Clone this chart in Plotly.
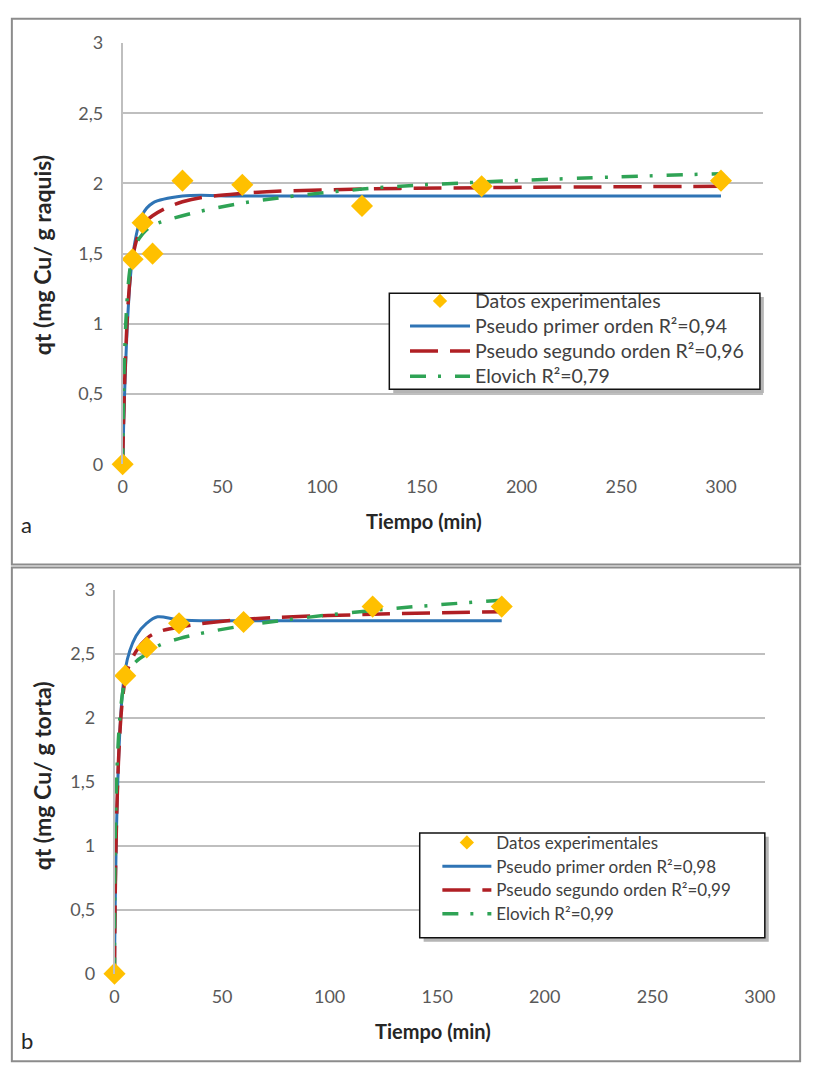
import plotly.graph_objects as go

# ---------------- data ----------------
# Panel a (raquis)
t_exp_a = [0, 5, 10, 15, 30, 60, 120, 180, 300]
q_exp_a = [0, 1.46, 1.72, 1.50, 2.02, 1.99, 1.84, 1.98, 2.02]
t_mod_a = [0, 5, 10, 15, 30, 60, 120, 180, 300]
pfo_a = [0, 1.48, 1.78, 1.86, 1.91, 1.91, 1.91, 1.91, 1.91]
pso_a = [0, 1.47, 1.70, 1.77, 1.87, 1.93, 1.96, 1.97, 1.98]
elo_a = [0, 1.50, 1.64, 1.70, 1.77, 1.86, 1.96, 2.01, 2.07]

# Panel b (torta)
t_exp_b = [0, 5, 15, 30, 60, 120, 180]
q_exp_b = [0, 2.33, 2.55, 2.74, 2.75, 2.87, 2.87]
t_mod_b = [0, 5, 10, 15, 20, 30, 60, 120, 180]
pfo_b = [0, 2.38, 2.64, 2.74, 2.79, 2.765, 2.76, 2.76, 2.76]
pso_b = [0, 2.30, 2.52, 2.62, 2.67, 2.71, 2.77, 2.81, 2.83]
elo_b = [0, 2.30, 2.44, 2.50, 2.56, 2.62, 2.72, 2.84, 2.92]

names_a = ["Datos experimentales", "Pseudo primer orden R²=0,94",
           "Pseudo segundo orden R²=0,96", "Elovich R²=0,79"]
names_b = ["Datos experimentales", "Pseudo primer orden R²=0,98",
           "Pseudo segundo orden R²=0,99", "Elovich R²=0,99"]

y_ticks = [0, 0.5, 1, 1.5, 2, 2.5, 3]
x_ticks = [0, 50, 100, 150, 200, 250, 300]

# ---------------- styles ----------------
FONT = "Lato"
BLUE = "#2F74B5"
RED = "#B01F24"
GREEN = "#2FA355"
GOLD = "#FFC000"
W, H = 817, 1078

fig = go.Figure()


def add_panel(t_mod, pfo, pso, elo, t_exp, q_exp, names, xa, ya, leg, fs):
    lab = [f'<span style="font-size:{fs}px">{n}</span>' for n in names]
    fig.add_trace(go.Scatter(x=[None], y=[None], mode="markers", name=lab[0],
                             marker=dict(symbol="diamond", size=11, color=GOLD),
                             xaxis=xa, yaxis=ya, legend=leg, legendrank=1,
                             hoverinfo="skip"))
    fig.add_trace(go.Scatter(x=t_mod, y=pfo, mode="lines", name=lab[1],
                             line=dict(color=BLUE, width=3, shape="spline"),
                             xaxis=xa, yaxis=ya, legend=leg, legendrank=2))
    fig.add_trace(go.Scatter(x=t_mod, y=pso, mode="lines", name=lab[2],
                             line=dict(color=RED, width=3.5, shape="spline",
                                       dash="28px,12px"),
                             xaxis=xa, yaxis=ya, legend=leg, legendrank=3))
    fig.add_trace(go.Scatter(x=t_mod, y=elo, mode="lines", name=lab[3],
                             line=dict(color=GREEN, width=3.5, shape="spline",
                                       dash="16px,12px,3px,14px"),
                             xaxis=xa, yaxis=ya, legend=leg, legendrank=4))
    fig.add_trace(go.Scatter(x=t_exp, y=q_exp, mode="markers", name=names[0],
                             marker=dict(symbol="diamond", size=17, color=GOLD),
                             cliponaxis=False, showlegend=False,
                             xaxis=xa, yaxis=ya, legend=leg))


add_panel(t_mod_a, pfo_a, pso_a, elo_a, t_exp_a, q_exp_a, names_a, "x", "y", "legend", 19.5)
add_panel(t_mod_b, pfo_b, pso_b, elo_b, t_exp_b, q_exp_b, names_b, "x2", "y2", "legend2", 17)


def px_x(p):
    return p / W


def px_y(p):
    return 1 - p / H


tickfont = dict(family=FONT, size=18, color="#595959")
xcommon = dict(tickvals=x_ticks, showgrid=False, zeroline=False, showline=False,
               ticks="", tickfont=tickfont, ticklabelstandoff=10, fixedrange=True)
ycommon = dict(tickvals=y_ticks, range=[0, 3], showgrid=True, gridcolor="#BFBFBF",
               gridwidth=1.5, zeroline=False, showline=True, linecolor="#BFBFBF",
               linewidth=1.5, ticks="", tickfont=tickfont, ticklabelstandoff=14,
               fixedrange=True)

fig.update_layout(
    width=W, height=H, margin=dict(l=0, r=0, t=0, b=0),
    paper_bgcolor="white", plot_bgcolor="white",
    separators=",.",
    font=dict(family=FONT, color="#404040"),
    xaxis=dict(domain=[px_x(120), px_x(773)], range=[0, 321], anchor="y", **xcommon),
    yaxis=dict(domain=[px_y(461.7), px_y(31.7)], anchor="x", **ycommon),
    xaxis2=dict(domain=[px_x(111.7), px_x(775)], range=[0, 302.3], anchor="y2", **xcommon),
    yaxis2=dict(domain=[px_y(981.7), px_y(590)], anchor="x2", **ycommon),
    legend=dict(x=px_x(408), y=px_y(277), xanchor="left", yanchor="top",
                bgcolor="rgba(0,0,0,0)", borderwidth=0,
                font=dict(family=FONT, size=17, color="#404040"),
                itemwidth=60, traceorder="normal", tracegroupgap=0),
    legend2=dict(x=px_x(441), y=px_y(830.5), xanchor="left", yanchor="top",
                 bgcolor="rgba(0,0,0,0)", borderwidth=0,
                 font=dict(family=FONT, size=16, color="#404040"),
                 itemwidth=49, traceorder="normal", tracegroupgap=0),
    showlegend=True,
)

# panel frames
for y0, y1 in [(7, 564), (567, 1071)]:
    fig.add_shape(type="rect", xref="paper", yref="paper",
                  x0=px_x(7), x1=px_x(811), y0=px_y(y1), y1=px_y(y0),
                  line=dict(color="#8C8C8C", width=2), layer="below")

# legend boxes (shadow + white box with dark border), drawn under the legend text
for (bx0, by0, bx1, by1) in [(392, 287, 770, 385), (423, 838, 775, 945)]:
    fig.add_shape(type="rect", xref="paper", yref="paper",
                  x0=px_x(bx0 + 4), x1=px_x(bx1 + 4), y0=px_y(by1 + 4), y1=px_y(by0 + 4),
                  line=dict(width=0), fillcolor="#B5B5B5", layer="above")
    fig.add_shape(type="rect", xref="paper", yref="paper",
                  x0=px_x(bx0), x1=px_x(bx1), y0=px_y(by1), y1=px_y(by0),
                  line=dict(color="#111111", width=1.5), fillcolor="white", layer="above")

title_font = dict(family=FONT, size=20, color="#262626")
ytitle_font = dict(family=FONT, size=23, color="#262626")
annots = [
    dict(text="<b>Tiempo (min)</b>", x=px_x(427), y=px_y(520), textangle=0, font=title_font),
    dict(text="<b>Tiempo (min)</b>", x=px_x(437), y=px_y(1040), textangle=0, font=title_font),
    dict(text="<b>qt (mg Cu/ g raquis)</b>", x=px_x(38), y=px_y(248), textangle=-90, font=ytitle_font),
    dict(text="<b>qt (mg Cu/ g torta)</b>", x=px_x(38), y=px_y(780), textangle=-90, font=ytitle_font),
]
for a in annots:
    fig.add_annotation(xref="paper", yref="paper", showarrow=False,
                       xanchor="center", yanchor="middle", **a)
for lab, yy in [("a", 523), ("b", 1050)]:
    fig.add_annotation(text=lab, xref="paper", yref="paper", showarrow=False,
                       x=px_x(22), y=px_y(yy), xanchor="center", yanchor="middle",
                       font=dict(family=FONT, size=22, color="#262626"))

# negative margin cancels the page's default body margin
fig.write_html("out.html", config={"responsive": False},
               default_width=f"{W}px;margin:-8px",
               default_height=f"{H}px")
